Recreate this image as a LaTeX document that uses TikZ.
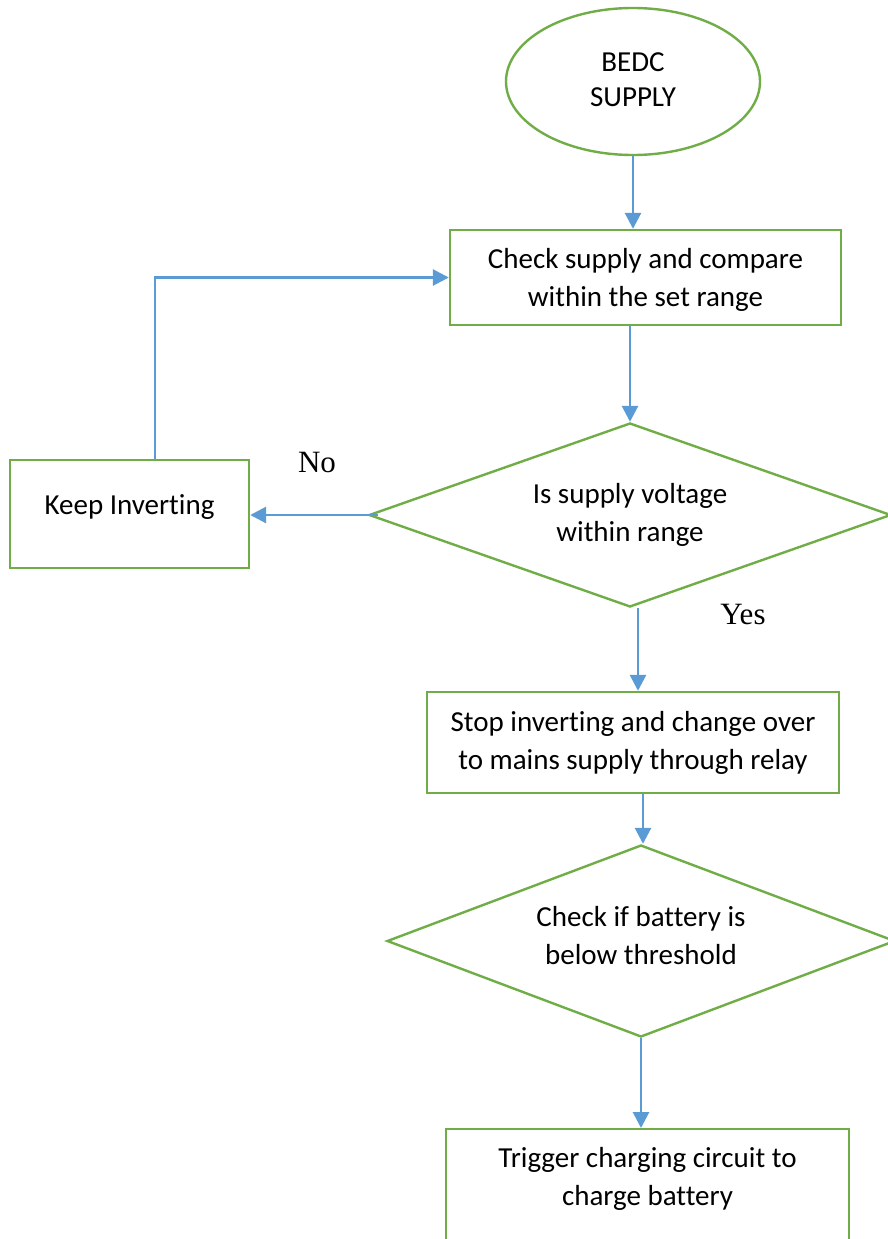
\documentclass[tikz,border=0pt]{standalone}
\usepackage{fontspec}
\setmainfont{Carlito}[Ligatures={NoCommon,NoRequired,NoContextual}]
\newfontfamily\labelfont{Liberation Serif}
\usetikzlibrary{shapes.geometric,arrows.meta}
\definecolor{flowgreen}{RGB}{112,173,71}
\definecolor{flowblue}{RGB}{91,155,213}
\begin{document}
\begin{tikzpicture}[x=1pt,y=-1pt,
  outline/.style={draw=flowgreen, line width=2.4pt, fill=white},
  bodytext/.style={font=\fontsize{29}{38}\selectfont, align=center},
  procbox/.style={outline, rectangle, inner sep=0pt, bodytext},
  decision/.style={outline, diamond, aspect=2.85, inner sep=0pt, bodytext},
  terminal/.style={outline, ellipse, inner sep=0pt, bodytext},
  flow/.style={draw=flowblue, line width=2.8pt, -{Triangle[length=16pt,width=16pt]}},
  answer/.style={font=\labelfont\fontsize{31}{31}\selectfont}]
\useasboundingbox (0,0) rectangle (888,1239);

% shapes
\node[terminal, minimum width=254pt, minimum height=147pt] (bedc) at (633,81.5) {};
\node[bodytext, font=\fontsize{29}{35}\selectfont] (bedctext) at (633,80) {BEDC\\SUPPLY};
\node[procbox, minimum width=391pt, minimum height=95pt] (check) at (645.5,277.5) {};
\node[bodytext] (checktext) at (645.5,280)
  {Check supply and compare\\within the set range};
\node[decision, minimum width=522pt, minimum height=184pt] (range) at (630,515)
  {Is supply voltage\\within range};
\node[procbox, minimum width=239pt, minimum height=108pt, text height=12pt, text depth=12pt] (keep) at (129.5,514)
  {Keep Inverting};
\node[procbox, minimum width=412pt, minimum height=101pt] (stop) at (633,742.5)
  {Stop inverting and change over\\to mains supply through relay};
\node[decision, minimum width=508pt, minimum height=192pt] (battery) at (641,941) {};
\node[bodytext] (batterytext) at (641,936)
  {Check if battery is\\below threshold};
\node[outline, rectangle, inner sep=0pt, minimum width=403pt, minimum height=160pt, anchor=north] (trigger) at (647.5,1128) {};
\node[bodytext] (triggertext) at (647.5,1179)
  {Trigger charging circuit to\\charge battery};

% answer labels
\node[answer] (no) at (317,462) {No};
\node[answer] (yes) at (743,614) {Yes};

% connectors
\draw[flow] (bedc.south) -- (bedc.south |- check.north);
\draw[flow] (check.south -| range.north) -- (range.north);
\draw[flow] ([xshift=10pt]range.west) -- (range.west -| keep.east);
\draw[flow] ([xshift=25.5pt]keep.north) |- (check.west);
\draw[flow] ([xshift=8pt]range.south) -- ([xshift=8pt]range.south |- stop.north);
\draw[flow] ([xshift=10pt]stop.south) -- ([xshift=10pt]stop.south |- battery.north);
\draw[flow] (battery.south) -- (battery.south |- trigger.north);
\end{tikzpicture}
\end{document}
